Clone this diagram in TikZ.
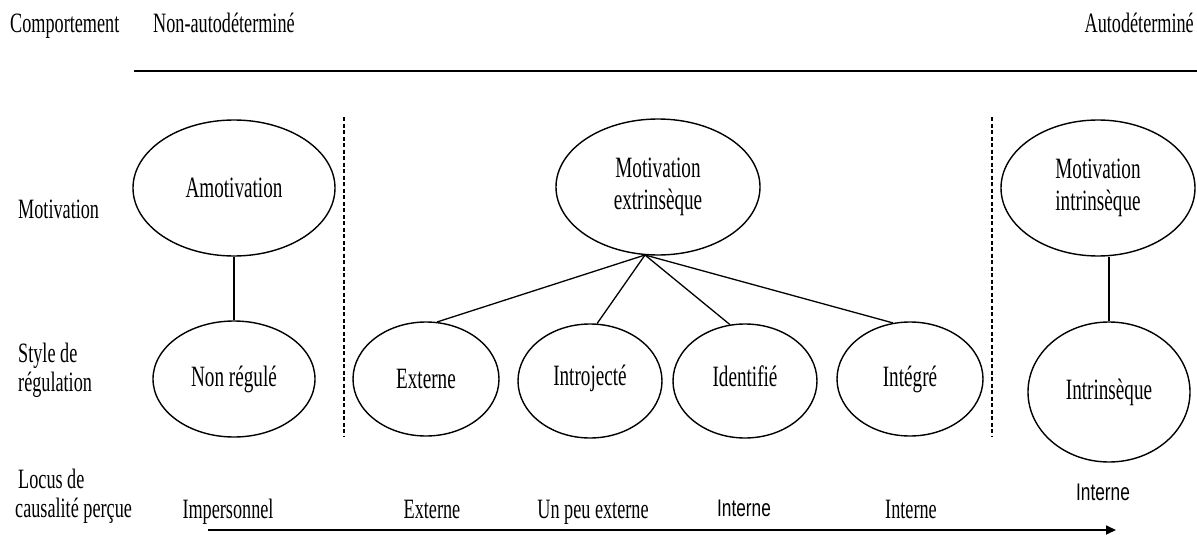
\documentclass[tikz,border=0pt]{standalone}
\usepackage{fontspec}
\setmainfont[FakeStretch=0.65]{Liberation Serif}
\newfontfamily\intfont[FakeStretch=0.72]{Liberation Sans}
\usetikzlibrary{shapes.geometric,arrows.meta,calc}
\begin{document}
\begin{tikzpicture}[x=1pt,y=-1pt,
  lbl/.style={font=\fontsize{28}{28}\selectfont, inner sep=0},
  ell/.style={ellipse, draw, line width=1.4pt, inner sep=0, align=center,
              font=\fontsize{29.5}{32}\selectfont},
  sansl/.style={font=\intfont\fontsize{24}{26}\selectfont, inner sep=0},
  conn/.style={line width=1.3pt},
  sepline/.style={line width=1.2pt, dash pattern=on 4pt off 2.5pt},
  axis/.style={line width=1.7pt}]
\useasboundingbox (0,0) rectangle (1197,535);

% top row
\node[lbl, anchor=base west] (comp) at (10,33) {Comportement};
\node[lbl, anchor=base west] (nonauto) at (153,33) {Non-autodéterminé};
\node[lbl, anchor=base east] (auto) at (1194,33) {Autodéterminé};
\coordinate (tl1) at (134,71);
\coordinate (tl2) at (1197,71);
\draw[axis] (tl1) -- (tl2);

% left labels
\node[lbl, anchor=base west] (motl) at (18,218) {Motivation};
\node[lbl, anchor=base west] (sty1) at (18,362) {Style de};
\node[lbl, anchor=base west] (sty2) at (18,391) {régulation};
\node[lbl, anchor=base west] (loc1) at (18,488) {Locus de};
\node[lbl, anchor=base west] (loc2) at (15,517) {causalité perçue};

% separators
\coordinate (s1a) at (344,117); \coordinate (s1b) at (344,437);
\coordinate (s2a) at (992,117); \coordinate (s2b) at (992,437);
\draw[sepline] (s1a) -- (s1b);
\draw[sepline] (s2a) -- (s2b);

% ellipses
\node[ell, minimum width=202pt, minimum height=136pt] (amot) at (234,188) {Amotivation};
\node[ell, minimum width=162pt, minimum height=116pt] (nonreg) at (234,379) {Non régulé};
\node[ell, minimum width=204pt, minimum height=136pt] (mext) at (658,187) {Motivation\\extrinsèque};
\node[ell, minimum width=146pt, minimum height=114pt] (ext) at (426,379) {Externe};
\node[ell, minimum width=144pt, minimum height=114pt] (intro) at (590,381) {\raisebox{12pt}{Introjecté}};
\node[ell, minimum width=144pt, minimum height=114pt] (ident) at (745,381) {\raisebox{10pt}{Identifié}};
\node[ell, minimum width=146pt, minimum height=114pt] (integ) at (910,379) {Intégré};
\node[ell, minimum width=194pt, minimum height=136pt] (mint) at (1098,188) {Motivation\\intrinsèque};
\node[ell, minimum width=162pt, minimum height=140pt] (intr) at (1109,392) {\raisebox{-3pt}{Intrinsèque}};

% connectors
\draw[conn] (amot.south) -- (nonreg.north);
\coordinate (apex) at (645,255);
\draw[conn] (apex) -- (ext.79);
\draw[conn] (apex) -- (intro.83);
\draw[conn] (apex) -- (ident.105);
\draw[conn] (apex) -- (integ.107);
\draw[conn] (intr.north |- mint.south) -- (intr.north);

% bottom labels
\node[lbl, anchor=base] (imp) at (228,518) {Impersonnel};
\node[lbl, anchor=base] (bext) at (432,518) {Externe};
\node[lbl, anchor=base] (upe) at (593,518) {Un peu externe};
\node[sansl, anchor=base] (int1) at (744,516) {Interne};
\node[lbl, anchor=base] (int2) at (911,518) {Interne};
\node[sansl, anchor=base] (int3) at (1103,500) {Interne};

% axis arrow
\coordinate (ar1) at (208,530);
\coordinate (ar2) at (1116,530);
\draw[axis, -{Triangle[length=10pt,width=9pt]}] (ar1) -- (ar2);
\end{tikzpicture}
\end{document}
